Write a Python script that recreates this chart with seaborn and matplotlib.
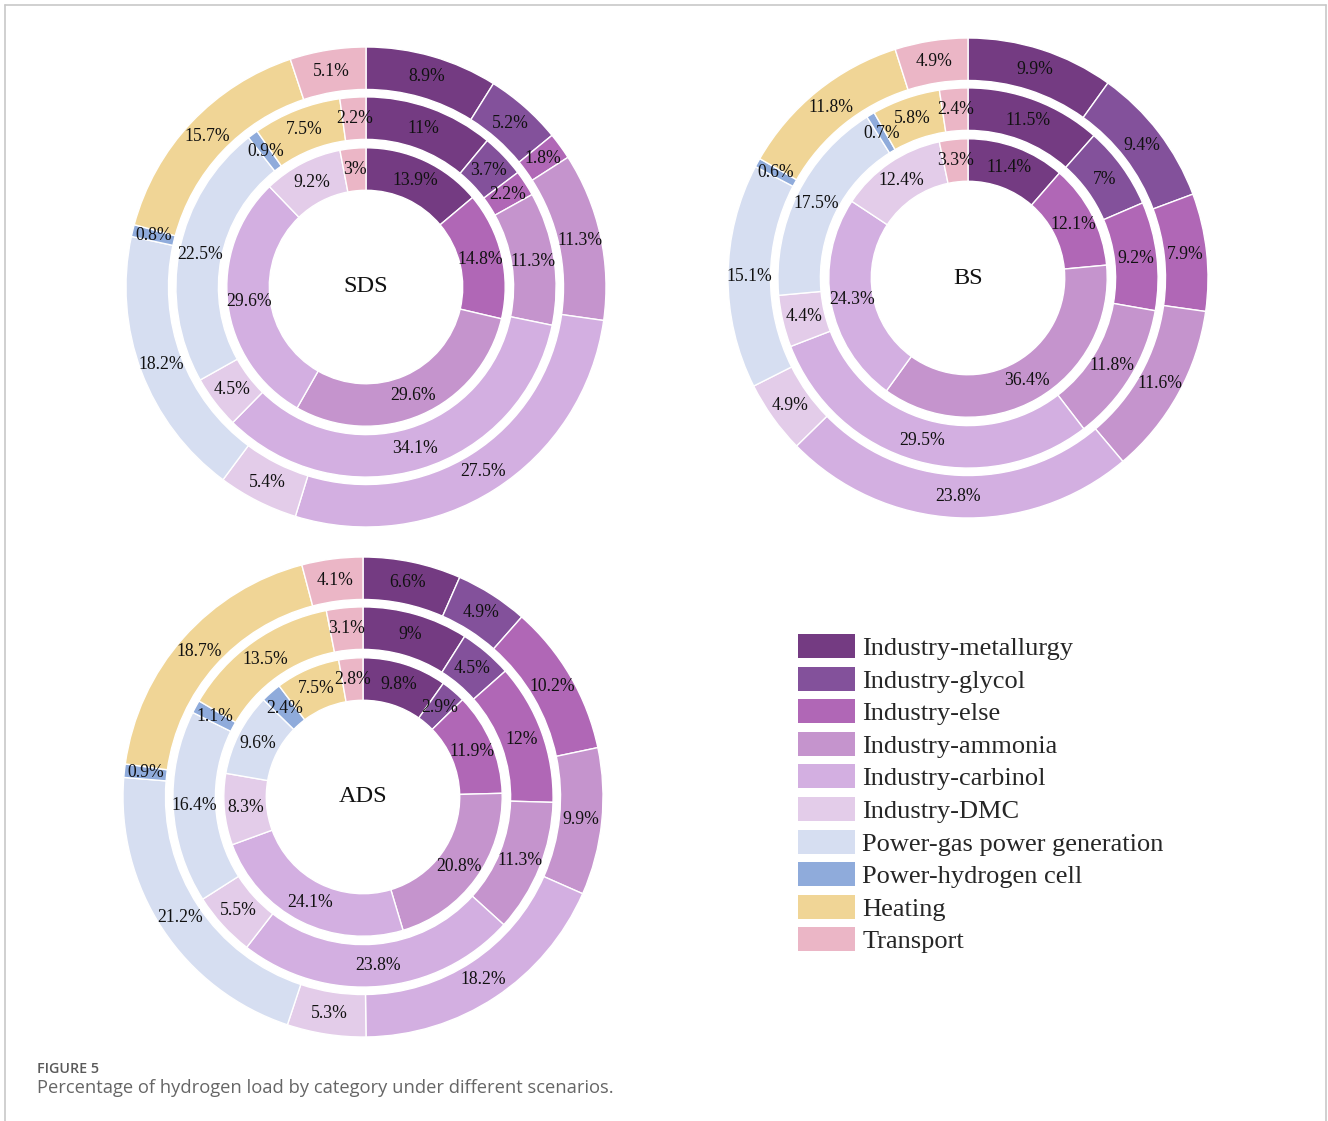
import numpy as np
import matplotlib
matplotlib.use("Agg")
import matplotlib.pyplot as plt
import seaborn as sns
from matplotlib.patches import Patch
from matplotlib.lines import Line2D

# Load categories (clockwise from 12 o'clock in every ring)
categories = [
    "Industry-metallurgy", "Industry-glycol", "Industry-else", "Industry-ammonia",
    "Industry-carbinol", "Industry-DMC", "Power-gas power generation",
    "Power-hydrogen cell", "Heating", "Transport",
]
palette = [
    "#743B82", "#83519B", "#B067B6", "#C594CD", "#D3AFE1",
    "#E3CCE9", "#D6DEF1", "#8FABDB", "#F0D596", "#EBB6C6",
]

# Shares (%) per scenario: inner, middle and outer ring
sds_inner = [13.9, 0, 14.8, 29.6, 29.6, 9.2, 0, 0, 0, 3]
sds_middle = [11, 3.7, 2.2, 11.3, 34.1, 4.5, 22.5, 0.9, 7.5, 2.2]
sds_outer = [8.9, 5.2, 1.8, 11.3, 27.5, 5.4, 18.2, 0.8, 15.7, 5.1]

bs_inner = [11.4, 0, 12.1, 36.4, 24.3, 12.4, 0, 0, 0, 3.3]
bs_middle = [11.5, 7, 9.2, 11.8, 29.5, 4.4, 17.5, 0.7, 5.8, 2.4]
bs_outer = [9.9, 9.4, 7.9, 11.6, 23.8, 4.9, 15.1, 0.6, 11.8, 4.9]

ads_inner = [9.8, 2.9, 11.9, 20.8, 24.1, 8.3, 9.6, 2.4, 7.5, 2.8]
ads_middle = [9, 4.5, 12, 11.3, 23.8, 5.5, 16.4, 1.1, 13.5, 3.1]
ads_outer = [6.6, 4.9, 10.2, 9.9, 18.2, 5.3, 21.2, 0.9, 18.7, 4.1]

scenarios = ["SDS", "BS", "ADS"]

sns.set_theme(style="white")
plt.rcParams["font.family"] = ["Liberation Serif", "DejaVu Serif"]

W, H = 1328, 1121
fig = plt.figure(figsize=(W / 100, H / 100), dpi=100)
fig.patch.set_facecolor("white")

RADII = [0.58, 0.792, 1.0]
RING_W = 0.177


def fmt(v):
    s = f"{v:.1f}".rstrip("0").rstrip(".")
    return s + "%"


def donut(cx, cy, rings, name, R=240):
    ax = fig.add_axes([(cx - R) / W, 1 - (cy + R) / H, 2 * R / W, 2 * R / H])
    for values, r in zip(rings, RADII):
        vals = [v for v in values if v > 0]
        cols = [c for v, c in zip(values, palette) if v > 0]
        wedges, _ = ax.pie(
            vals, radius=r, colors=cols, startangle=90, counterclock=False,
            wedgeprops=dict(width=RING_W, edgecolor="white", linewidth=1.0),
        )
        rm = r - RING_W / 2
        for w, v in zip(wedges, vals):
            ang = np.deg2rad((w.theta1 + w.theta2) / 2)
            ax.text(rm * np.cos(ang), rm * np.sin(ang), fmt(v),
                    ha="center", va="center", fontsize=12.7, color="#111111")
    ax.text(0, 0, name, ha="center", va="center", fontsize=17.5, color="#111111")
    ax.set_xlim(-1, 1)
    ax.set_ylim(-1, 1)
    ax.set_aspect("equal")
    ax.axis("off")


donut(366, 287, [sds_inner, sds_middle, sds_outer], scenarios[0])
donut(968, 278, [bs_inner, bs_middle, bs_outer], scenarios[1])
donut(363, 797, [ads_inner, ads_middle, ads_outer], scenarios[2])

handles = [Patch(facecolor=c, edgecolor="none") for c in palette]
fig.legend(
    handles, categories, loc="upper left",
    bbox_to_anchor=(798 / W, 1 - 634 / H), frameon=False,
    fontsize=19, handlelength=2.16, handleheight=1.02, handletextpad=0.27,
    labelspacing=0.25, borderpad=0, borderaxespad=0,
)

# Caption
fig.text(37 / W, 1 - 1069 / H, "FIGURE 5", ha="left", va="center",
         fontsize=10.3, fontweight="semibold", color="#5a5a5a", family="Open Sans")
fig.text(37 / W, 1 - 1088 / H,
         "Percentage of hydrogen load by category under different scenarios.",
         ha="left", va="center", fontsize=13.2, color="#666666", family="Open Sans")

# Frame lines on left, top and right
fc = "#c8c8c8"
fig.add_artist(Line2D([4.5 / W, 4.5 / W], [0, 1 - 4.5 / H], color=fc, lw=1.2))
fig.add_artist(Line2D([4.5 / W, 1326 / W], [1 - 4.5 / H, 1 - 4.5 / H], color=fc, lw=1.2))
fig.add_artist(Line2D([1326 / W, 1326 / W], [0, 1 - 4.5 / H], color=fc, lw=1.2))

fig.savefig("out.png", dpi=100, facecolor="white")
